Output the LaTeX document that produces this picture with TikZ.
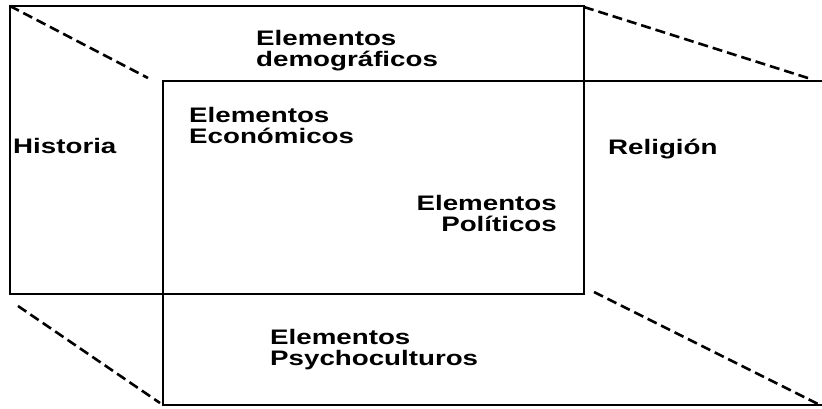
\documentclass[tikz,border=0pt]{standalone}
\usepackage{fontspec}
\usepackage{graphicx}
\setmainfont{Liberation Sans}
\newcommand{\lblL}[1]{\scalebox{1.32}[1]{\bfseries\begin{tabular}[t]{@{}l@{}}#1\end{tabular}}}
\newcommand{\lblR}[1]{\scalebox{1.32}[1]{\bfseries\begin{tabular}[t]{@{}r@{}}#1\end{tabular}}}
\begin{document}
\begin{tikzpicture}[x=1pt,y=-1pt,
  frame/.style={line width=2.8pt, line cap=rect, line join=miter},
  persp/.style={line width=2.6pt, dash pattern=on 10pt off 5pt},
  lbl/.style={inner sep=0pt, font=\fontsize{21}{21.5}\selectfont}]
\useasboundingbox (0,0) rectangle (822,408);
% back rectangle
\coordinate (b1) at (10,6);
\coordinate (b2) at (584,6);
\coordinate (b3) at (584,294);
\coordinate (b4) at (10,294);
% front frame
\coordinate (f1) at (163,81);
\coordinate (f2) at (822,81);
\coordinate (f3) at (822,405);
\coordinate (f4) at (163,405);
\draw[frame] (b1) -- (b2) -- (b3) -- (b4) -- cycle;
\draw[frame] (f2) -- (f1) -- (f4) -- (f3);
% perspective dashed lines
\coordinate (d1a) at (10,6);    \coordinate (d1b) at (148,78);
\coordinate (d2a) at (584,7);   \coordinate (d2b) at (811,79);
\coordinate (d3a) at (18,306);  \coordinate (d3b) at (160,403);
\coordinate (d4a) at (594,292); \coordinate (d4b) at (818,404);
\draw[persp] (d1a) -- (d1b);
\draw[persp] (d2a) -- (d2b);
\draw[persp] (d3a) -- (d3b);
\draw[persp] (d4a) -- (d4b);
% labels
\node[lbl, anchor=base west] (demo) at (256,45) {\lblL{Elementos\\demográficos}};
\node[lbl, anchor=base west] (econ) at (189,122) {\lblL{Elementos\\Económicos}};
\node[lbl, anchor=base west] (hist) at (13,153) {\lblL{Historia}};
\node[lbl, anchor=base west] (reli) at (608,154) {\lblL{Religión}};
\node[lbl, anchor=base east] (poli) at (557,210) {\lblR{Elementos\\Políticos}};
\node[lbl, anchor=base west] (psyc) at (270,344) {\lblL{Elementos\\Psychoculturos}};
\end{tikzpicture}
\end{document}
